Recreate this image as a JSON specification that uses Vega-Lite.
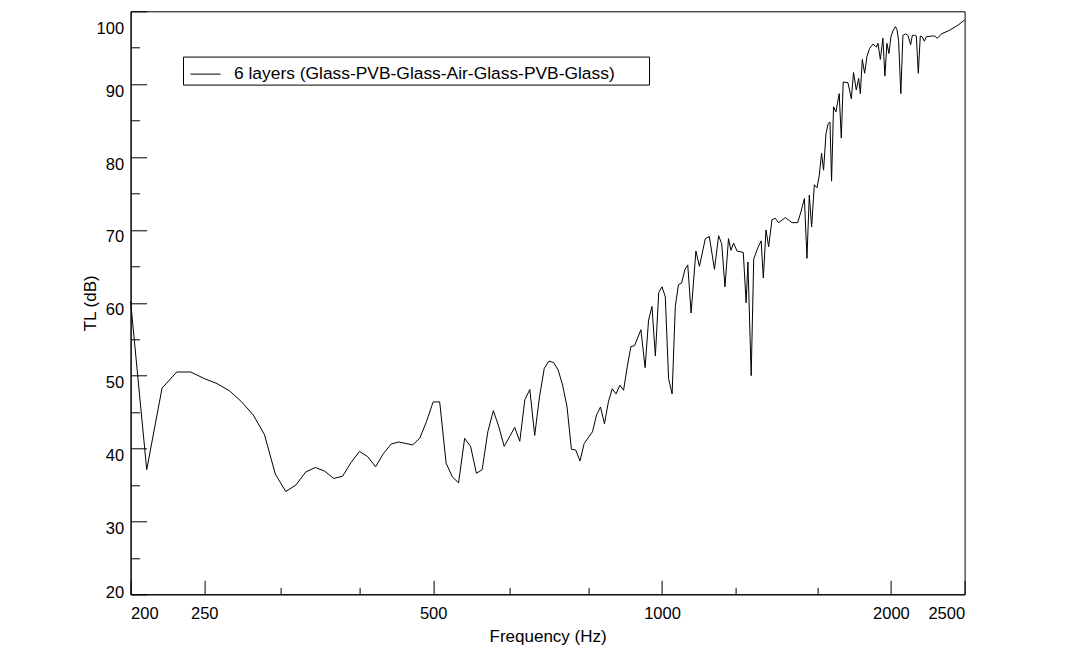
{
  "$schema": "https://vega.github.io/schema/vega-lite/v6.json",
  "width": 834,
  "height": 583,
  "autosize": {"type": "none"},
  "padding": {"left": 130.6, "top": 11.3, "right": 104.4, "bottom": 64.7},
  "background": "white",
  "config": {
    "font": "Liberation Sans",
    "view": {"stroke": "black", "strokeWidth": 1},
    "axis": {"grid": false, "domainColor": "black", "tickColor": "black", "labelColor": "black", "titleColor": "black", "domainWidth": 1, "tickWidth": 1}
  },
  "data": {
    "values": [
      {"f": 200, "tl": 60.2}, {"f": 210, "tl": 37.1}, {"f": 220, "tl": 48.3}, {"f": 230, "tl": 50.5},
      {"f": 240, "tl": 50.5}, {"f": 250, "tl": 49.6}, {"f": 260, "tl": 48.9}, {"f": 270, "tl": 47.9},
      {"f": 280, "tl": 46.4}, {"f": 290, "tl": 44.6}, {"f": 300, "tl": 41.9}, {"f": 310, "tl": 36.5},
      {"f": 320, "tl": 34.1}, {"f": 330, "tl": 35.0}, {"f": 340, "tl": 36.8}, {"f": 350, "tl": 37.4},
      {"f": 360, "tl": 36.9}, {"f": 370, "tl": 35.9}, {"f": 380, "tl": 36.2}, {"f": 390, "tl": 38.1},
      {"f": 400, "tl": 39.6}, {"f": 410, "tl": 38.9}, {"f": 420, "tl": 37.5}, {"f": 430, "tl": 39.3},
      {"f": 440, "tl": 40.6}, {"f": 450, "tl": 40.9}, {"f": 460, "tl": 40.7}, {"f": 470, "tl": 40.5},
      {"f": 480, "tl": 41.4}, {"f": 490, "tl": 43.7}, {"f": 500, "tl": 46.4}, {"f": 510, "tl": 46.4},
      {"f": 520, "tl": 38.0}, {"f": 530, "tl": 36.1}, {"f": 540, "tl": 35.3}, {"f": 550, "tl": 41.4},
      {"f": 560, "tl": 40.3}, {"f": 570, "tl": 36.6}, {"f": 580, "tl": 37.1}, {"f": 590, "tl": 42.3},
      {"f": 600, "tl": 45.2}, {"f": 610, "tl": 43.0}, {"f": 620, "tl": 40.3}, {"f": 640, "tl": 42.9},
      {"f": 650, "tl": 41.0}, {"f": 660, "tl": 46.7}, {"f": 670, "tl": 48.1}, {"f": 680, "tl": 41.8},
      {"f": 690, "tl": 47.1}, {"f": 700, "tl": 51.0}, {"f": 710, "tl": 52.0}, {"f": 720, "tl": 51.8},
      {"f": 730, "tl": 50.8}, {"f": 740, "tl": 48.7}, {"f": 750, "tl": 45.7}, {"f": 760, "tl": 39.9},
      {"f": 770, "tl": 39.8}, {"f": 780, "tl": 38.3}, {"f": 790, "tl": 40.7}, {"f": 810, "tl": 42.3},
      {"f": 820, "tl": 44.6}, {"f": 830, "tl": 45.7}, {"f": 840, "tl": 43.4}, {"f": 850, "tl": 46.4},
      {"f": 860, "tl": 48.2}, {"f": 870, "tl": 47.5}, {"f": 880, "tl": 48.7}, {"f": 890, "tl": 48.0},
      {"f": 900, "tl": 51.2}, {"f": 910, "tl": 54.0}, {"f": 920, "tl": 54.1}, {"f": 938, "tl": 56.3},
      {"f": 950, "tl": 51.1}, {"f": 960, "tl": 57.6}, {"f": 970, "tl": 59.5}, {"f": 980, "tl": 52.7},
      {"f": 990, "tl": 61.4}, {"f": 1000, "tl": 62.2}, {"f": 1010, "tl": 60.8}, {"f": 1020, "tl": 49.6},
      {"f": 1031, "tl": 47.5}, {"f": 1041, "tl": 59.5}, {"f": 1051, "tl": 62.5}, {"f": 1061, "tl": 62.7},
      {"f": 1072, "tl": 64.6}, {"f": 1081, "tl": 65.2}, {"f": 1092, "tl": 58.6}, {"f": 1108, "tl": 67.1},
      {"f": 1120, "tl": 65.0}, {"f": 1140, "tl": 68.8}, {"f": 1154, "tl": 69.1}, {"f": 1172, "tl": 64.6},
      {"f": 1187, "tl": 69.2}, {"f": 1198, "tl": 68.1}, {"f": 1210, "tl": 62.2}, {"f": 1223, "tl": 68.8},
      {"f": 1232, "tl": 67.2}, {"f": 1242, "tl": 68.2}, {"f": 1255, "tl": 67.1}, {"f": 1270, "tl": 67.0},
      {"f": 1279, "tl": 66.9}, {"f": 1290, "tl": 60.0}, {"f": 1297, "tl": 65.6}, {"f": 1310, "tl": 50.0},
      {"f": 1320, "tl": 66.0}, {"f": 1336, "tl": 67.5}, {"f": 1350, "tl": 68.5}, {"f": 1359, "tl": 63.4},
      {"f": 1370, "tl": 70.0}, {"f": 1381, "tl": 67.7}, {"f": 1395, "tl": 71.4}, {"f": 1409, "tl": 71.6},
      {"f": 1423, "tl": 71.0}, {"f": 1453, "tl": 71.7}, {"f": 1482, "tl": 71.0}, {"f": 1508, "tl": 71.0},
      {"f": 1523, "tl": 72.5}, {"f": 1539, "tl": 74.3}, {"f": 1551, "tl": 66.1}, {"f": 1562, "tl": 74.8},
      {"f": 1573, "tl": 70.4}, {"f": 1586, "tl": 76.2}, {"f": 1599, "tl": 75.8}, {"f": 1610, "tl": 77.5},
      {"f": 1621, "tl": 80.5}, {"f": 1631, "tl": 78.2}, {"f": 1643, "tl": 83.2}, {"f": 1654, "tl": 84.6},
      {"f": 1663, "tl": 84.8}, {"f": 1671, "tl": 76.7}, {"f": 1681, "tl": 86.9}, {"f": 1693, "tl": 86.2},
      {"f": 1710, "tl": 88.7}, {"f": 1721, "tl": 82.6}, {"f": 1731, "tl": 90.3}, {"f": 1756, "tl": 90.2},
      {"f": 1774, "tl": 88.0}, {"f": 1786, "tl": 91.6}, {"f": 1801, "tl": 89.2}, {"f": 1814, "tl": 90.8},
      {"f": 1823, "tl": 88.7}, {"f": 1834, "tl": 93.4}, {"f": 1847, "tl": 91.5}, {"f": 1860, "tl": 93.8},
      {"f": 1875, "tl": 94.9}, {"f": 1894, "tl": 95.5}, {"f": 1914, "tl": 95.1}, {"f": 1923, "tl": 95.6},
      {"f": 1937, "tl": 93.4}, {"f": 1952, "tl": 96.3}, {"f": 1964, "tl": 91.1}, {"f": 1976, "tl": 95.6},
      {"f": 1988, "tl": 94.2}, {"f": 2000, "tl": 96.5}, {"f": 2012, "tl": 97.3}, {"f": 2027, "tl": 97.9},
      {"f": 2037, "tl": 97.5}, {"f": 2047, "tl": 96.0}, {"f": 2061, "tl": 88.7}, {"f": 2074, "tl": 96.7},
      {"f": 2091, "tl": 96.9}, {"f": 2106, "tl": 96.7}, {"f": 2123, "tl": 95.4}, {"f": 2134, "tl": 96.7},
      {"f": 2149, "tl": 96.7}, {"f": 2160, "tl": 96.6}, {"f": 2173, "tl": 91.5}, {"f": 2186, "tl": 96.6},
      {"f": 2199, "tl": 96.5}, {"f": 2213, "tl": 95.9}, {"f": 2226, "tl": 96.5}, {"f": 2260, "tl": 96.6},
      {"f": 2283, "tl": 96.6}, {"f": 2302, "tl": 96.3}, {"f": 2330, "tl": 96.9}, {"f": 2389, "tl": 97.4},
      {"f": 2450, "tl": 98.1}, {"f": 2500, "tl": 98.8}
    ]
  },
  "mark": {"type": "line", "strokeWidth": 1, "interpolate": "linear"},
  "encoding": {
    "x": {
      "field": "f",
      "type": "quantitative",
      "scale": {"type": "log", "domain": [200, 2500], "nice": false},
      "axis": {
        "title": "Frequency (Hz)",
        "titleFontSize": 17,
        "titleFontWeight": "normal",
        "titlePadding": 0,
        "values": [200, 250, 315, 400, 500, 630, 800, 1000, 1250, 1600, 2000, 2500],
        "format": "d",
        "labelExpr": "indexof([200, 250, 500, 1000, 2000, 2500], datum.value) >= 0 ? datum.label : ''",
        "labelFontSize": 16.5,
        "labelFlush": true,
        "labelOverlap": false,
        "labelPadding": 25,
        "tickSize": {"condition": {"test": "indexof([315, 400, 630, 800, 1250, 1600], datum.value) >= 0", "value": -7}, "value": -14}
      }
    },
    "y": {
      "field": "tl",
      "type": "quantitative",
      "scale": {"domain": [20, 100], "nice": false, "zero": false},
      "axis": {
        "title": "TL (dB)",
        "titleFontSize": 17,
        "titleFontWeight": "normal",
        "titlePadding": -3,
        "values": [20, 25, 30, 35, 40, 45, 50, 55, 60, 65, 70, 75, 80, 85, 90, 95, 100],
        "labelExpr": "datum.value % 10 === 0 ? datum.label : ''",
        "labelFontSize": 16.5,
        "labelOverlap": false,
        "labelPadding": 23,
        "labelOffset": {"condition": [{"test": "datum.value === 100", "value": 17}, {"test": "datum.value === 20", "value": -2}], "value": 7},
        "tickSize": {"condition": {"test": "datum.value % 10 !== 0", "value": -9}, "value": -16}
      }
    },
    "color": {
      "datum": "6 layers (Glass-PVB-Glass-Air-Glass-PVB-Glass)",
      "type": "nominal",
      "scale": {"range": ["black"]},
      "legend": {
        "title": " ",
        "titleOrient": "right",
        "titlePadding": 32,
        "orient": "none",
        "legendX": 52.4,
        "legendY": 45.3,
        "strokeColor": "black",
        "fillColor": "white",
        "padding": 2,
        "symbolOffset": 5,
        "symbolType": "stroke",
        "symbolSize": 900,
        "symbolStrokeWidth": 1,
        "symbolStrokeColor": "black",
        "labelFontSize": 17.4,
        "labelOffset": 13,
        "labelLimit": 600,
        "labelColor": "black"
      }
    }
  }
}
